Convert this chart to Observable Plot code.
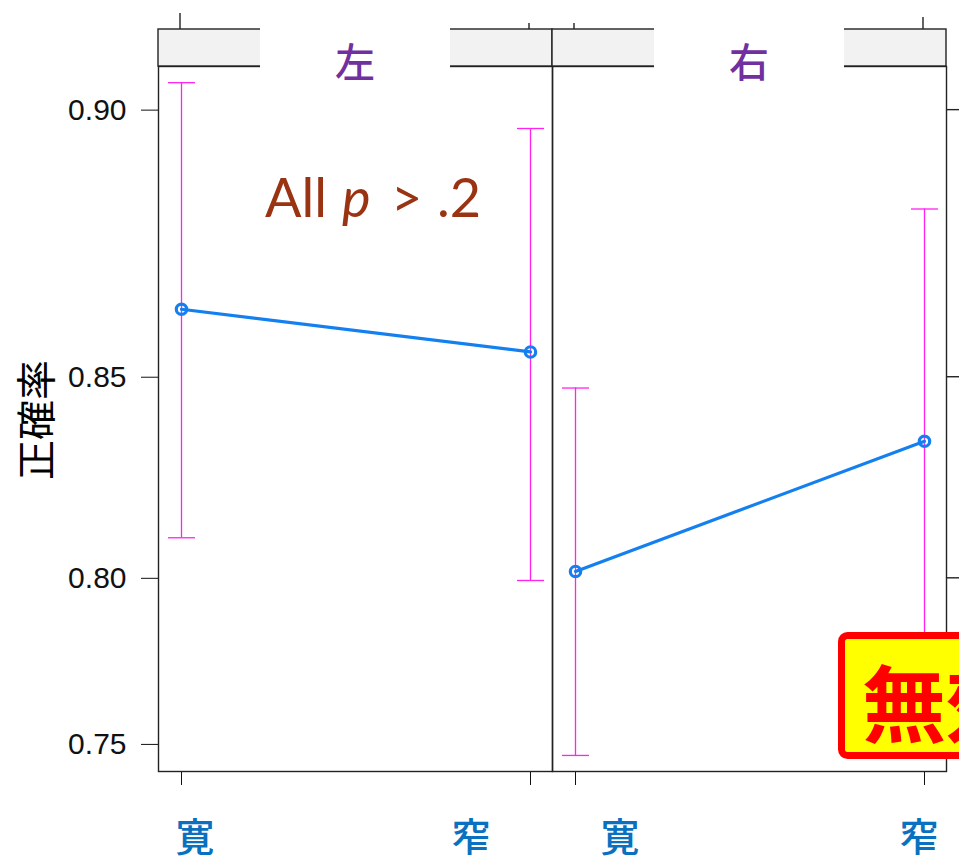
<!DOCTYPE html>
<html><head><meta charset="utf-8">
<script src="https://cdn.jsdelivr.net/npm/d3@7"></script>
<script src="https://cdn.jsdelivr.net/npm/@observablehq/plot@0.6"></script>
<style>body{margin:0;background:#fff}</style>
</head><body><div id="chart"></div>
<script>
// ---- data ----
const panels = ["左", "右"];
const conds = ["寛", "窄"];
const rowPanel = ["左", "左", "右", "右"];
const rowCond = ["寛", "窄", "寛", "窄"];
const meanAcc = [0.8644, 0.8555, 0.8019, 0.8353];
const lowerCI = [0.8110, 0.7994, 0.7464, 0.7720];
const upperCI = [0.9042, 0.8971, 0.8476, 0.8835];
const yTicks = [0.75, 0.80, 0.85, 0.90];
const yDomainP = [0.7411, 0.9066];
const yTitle = "正確率";
const noteText = ["All", "p", ">", ".2"];
const stampText = "無効";

const logit = p => Math.log(p / (1 - p));
const invlogit = v => 1 / (1 + Math.exp(-v));
const rows = rowPanel.map((p, i) => ({panel: p, cond: rowCond[i], mean: meanAcc[i], lo: lowerCI[i], hi: upperCI[i]}));

const blue = "#1480f0", magenta = "#ff22f0";
const cap = {draw(ctx) { ctx.moveTo(-13.5, 0); ctx.lineTo(13.5, 0); }};

const plot = Plot.plot({
  width: 959, height: 858,
  marginLeft: 157, marginRight: 13, marginTop: 66, marginBottom: 87,
  style: {fontFamily: "'Liberation Sans', Arial, sans-serif", fontSize: "30px", color: "#111", background: "#fff"},
  fx: {domain: panels, padding: 0, axis: null, label: null},
  x: {type: "point", domain: conds, padding: 0, inset: 22.5, tickSize: 14, tickFormat: () => "", label: null},
  y: {domain: yDomainP.map(logit), ticks: yTicks.map(logit), tickFormat: v => invlogit(v).toFixed(2),
      tickSize: 17, tickPadding: 15, label: null},
  marks: [
    Plot.frame({stroke: "#222", strokeWidth: 1.4}),
    Plot.ruleX(rows, {fx: "panel", x: "cond", y1: d => logit(d.lo), y2: d => logit(d.hi), stroke: magenta, strokeWidth: 1.3}),
    Plot.dot(rows, {fx: "panel", x: "cond", y: d => logit(d.lo), symbol: cap, stroke: magenta, strokeWidth: 1.3, fill: "none"}),
    Plot.dot(rows, {fx: "panel", x: "cond", y: d => logit(d.hi), symbol: cap, stroke: magenta, strokeWidth: 1.3, fill: "none"}),
    Plot.line(rows, {fx: "panel", x: "cond", y: d => logit(d.mean), stroke: blue, strokeWidth: 3.2}),
    Plot.dot(rows, {fx: "panel", x: "cond", y: d => logit(d.mean), r: 5.2, stroke: blue, strokeWidth: 3.2, fill: "none"})
  ]
});
document.getElementById("chart").appendChild(plot);

const fx = plot.scale("fx"), xs = plot.scale("x"), ys = plot.scale("y");
const bw = fx.bandwidth;
const svg = d3.select(plot);
const g = svg.append("g").attr("text-anchor", "start");
const cjk = "'Noto Sans CJK JP', sans-serif";
const base = fx.apply(panels[0]);
const px = (p, c) => fx.apply(p) - base + xs.apply(c);

// right-side y ticks
const right = 959 - 13;
yTicks.forEach(t => {
  const y = ys.apply(logit(t));
  g.append("line").attr("x1", right).attr("x2", right + 13).attr("y1", y).attr("y2", y)
    .attr("stroke", "#222").attr("stroke-width", 1.4);
});

// strips
const stripTop = 29, stripBot = 66;
panels.forEach(p => {
  const x0 = fx.apply(p);
  g.append("rect").attr("x", x0).attr("y", stripTop).attr("width", bw).attr("height", stripBot - stripTop)
    .attr("fill", "#f2f2f2").attr("stroke", "#222").attr("stroke-width", 1.4);
});
panels.forEach(p => {
  const cx = fx.apply(p) + bw / 2;
  g.append("rect").attr("x", cx - 95).attr("y", stripTop - 2).attr("width", 190).attr("height", stripBot - stripTop + 5)
    .attr("fill", "#fff");
  g.append("text").attr("x", cx).attr("y", 60).attr("text-anchor", "middle").attr("dominant-baseline", "central")
    .attr("font-family", cjk).attr("font-weight", 500).attr("font-size", 40).attr("fill", "#7030a0").text(p);
});

// top ticks
const topLen = [16, 6, 6, 12];
rows.forEach((d, i) => {
  const x = px(d.panel, d.cond);
  g.append("line").attr("x1", x).attr("x2", x).attr("y1", stripTop).attr("y2", stripTop - topLen[i])
    .attr("stroke", "#222").attr("stroke-width", 1.4);
});

// x labels
const nudge = [15, -58, 46, -4];
rows.forEach((d, i) => {
  g.append("text").attr("x", px(d.panel, d.cond) + nudge[i]).attr("y", 834)
    .attr("text-anchor", "middle").attr("dominant-baseline", "central")
    .attr("font-family", cjk).attr("font-weight", 500).attr("font-size", 39).attr("fill", "#0a70c0").text(d.cond);
});

// y title
g.append("text").attr("transform", "translate(34,420) rotate(-90)").attr("text-anchor", "middle")
  .attr("dominant-baseline", "central").attr("font-family", cjk).attr("font-size", 40).attr("fill", "#000").text(yTitle);

// annotation
const note = g.append("text").attr("y", 217).attr("text-anchor", "start")
  .attr("font-family", "Lato, sans-serif").attr("font-size", 54).attr("fill", "#993311");
note.append("tspan").attr("x", base + 107).text(noteText[0]);
note.append("tspan").attr("x", base + 184).attr("font-style", "italic").text(noteText[1]);
note.append("tspan").attr("x", base + 233).text(noteText[2]);
note.append("tspan").attr("x", base + 279).text(noteText[3]);

// stamp
g.append("rect").attr("x", 841.5).attr("y", 635.5).attr("width", 200).attr("height", 120).attr("rx", 6)
  .attr("fill", "#ffff00").attr("stroke", "#ff0000").attr("stroke-width", 7);
g.append("text").attr("x", 862).attr("y", 699).attr("text-anchor", "start").attr("dominant-baseline", "central")
  .attr("font-family", cjk).attr("font-weight", 700).attr("font-size", 84).attr("fill", "#ff0000").text(stampText);
</script></body></html>
